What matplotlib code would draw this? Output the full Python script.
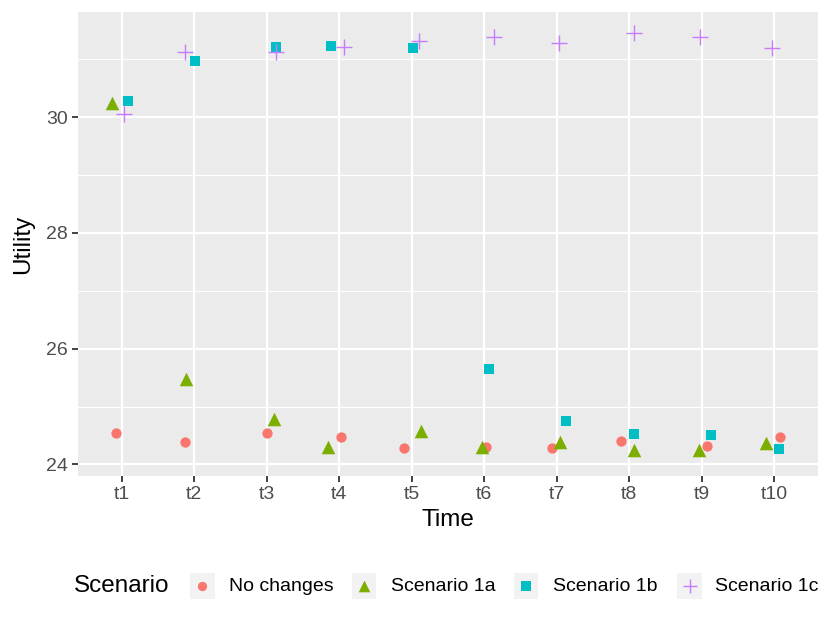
import matplotlib
matplotlib.use('Agg')
import matplotlib.pyplot as plt
from matplotlib.ticker import MultipleLocator

plt.rcParams['font.family'] = ['Liberation Sans', 'DejaVu Sans']

# time points and jittered x positions / utilities
times = ['t1', 't2', 't3', 't4', 't5', 't6', 't7', 't8', 't9', 't10']
scenarios = ['No changes', 'Scenario 1a', 'Scenario 1b', 'Scenario 1c']

x_nochange = [0.92, 1.88, 3.00, 4.03, 4.89, 6.03, 6.93, 7.89, 9.07, 10.08]
y_nochange = [24.54, 24.38, 24.54, 24.47, 24.28, 24.30, 24.29, 24.41, 24.31, 24.48]

x_1a = [0.87, 1.89, 3.10, 3.84, 5.13, 5.97, 7.05, 8.06, 8.96, 9.89]
y_1a = [30.25, 25.47, 24.78, 24.30, 24.57, 24.30, 24.38, 24.25, 24.25, 24.37]

x_1b = [1.09, 2.01, 3.13, 3.89, 5.02, 6.07, 7.12, 8.07, 9.12, 10.06]
y_1b = [30.28, 30.97, 31.21, 31.23, 31.20, 25.64, 24.75, 24.52, 24.51, 24.27]

x_1c = [1.03, 1.87, 3.13, 4.06, 5.10, 6.14, 7.03, 8.07, 8.98, 9.96]
y_1c = [30.06, 31.13, 31.12, 31.22, 31.31, 31.38, 31.29, 31.45, 31.39, 31.20]

colors = ['#F8766D', '#7CAE00', '#00BFC4', '#C77CFF']
markers = ['o', '^', 's', '+']
sizes = [55, 95, 55, 120]
key_sizes = [45, 70, 45, 110]

fig = plt.figure(figsize=(8.3, 6.23), dpi=100)
ax = fig.add_axes([0.094, 0.236, 0.8915, 0.745])
ax.set_facecolor('#EBEBEB')

series = [(x_nochange, y_nochange), (x_1a, y_1a), (x_1b, y_1b), (x_1c, y_1c)]
for (xs, ys), c, m, s in zip(series, colors, markers, sizes):
    if m == '+':
        ax.scatter(xs, ys, marker=m, s=s, color=c, linewidths=1.0, zorder=3)
    else:
        ax.scatter(xs, ys, marker=m, s=s, color=c, linewidths=0, zorder=3)

ax.set_xlim(0.4, 10.6)
ax.set_ylim(23.8, 31.82)
ax.set_xticks(range(1, 11))
ax.set_xticklabels(times)
ax.yaxis.set_major_locator(MultipleLocator(2))
ax.yaxis.set_minor_locator(MultipleLocator(1))
ax.grid(True, which='major', color='white', linewidth=1.6, zorder=0)
ax.grid(True, which='minor', axis='y', color='white', linewidth=0.8, zorder=0)
ax.set_axisbelow(True)
for sp in ax.spines.values():
    sp.set_visible(False)
ax.tick_params(axis='both', which='major', length=4.5, width=1.3, color='#333333',
               labelcolor='#4D4D4D', labelsize=14, pad=3)
ax.tick_params(axis='y', which='minor', length=0)
ax.set_xlabel('Time', fontsize=17.5, labelpad=4)
ax.set_ylabel('Utility', fontsize=17.5, labelpad=8)

# legend drawn ggplot-style at the bottom
ly = 0.059
fig.text(0.089, ly, 'Scenario', fontsize=17.5, va='center', ha='left')
key_x = [0.229, 0.424, 0.619, 0.816]
label_x = [0.276, 0.471, 0.666, 0.861]
for kx, lx, c, m, name, ks in zip(key_x, label_x, colors, markers, scenarios, key_sizes):
    kax = fig.add_axes([kx, ly - 0.0205, 0.0295, 0.041])
    kax.set_facecolor('#F2F2F2')
    kax.set_xlim(-1, 1)
    kax.set_ylim(-1, 1)
    kax.set_xticks([])
    kax.set_yticks([])
    for sp in kax.spines.values():
        sp.set_visible(False)
    if m == '+':
        kax.scatter([0], [0], marker=m, s=ks, color=c, linewidths=1.0)
    else:
        kax.scatter([0], [0], marker=m, s=ks, color=c, linewidths=0)
    fig.text(lx, ly, name, fontsize=14, va='center', ha='left')

fig.savefig('out.png', dpi=100)
